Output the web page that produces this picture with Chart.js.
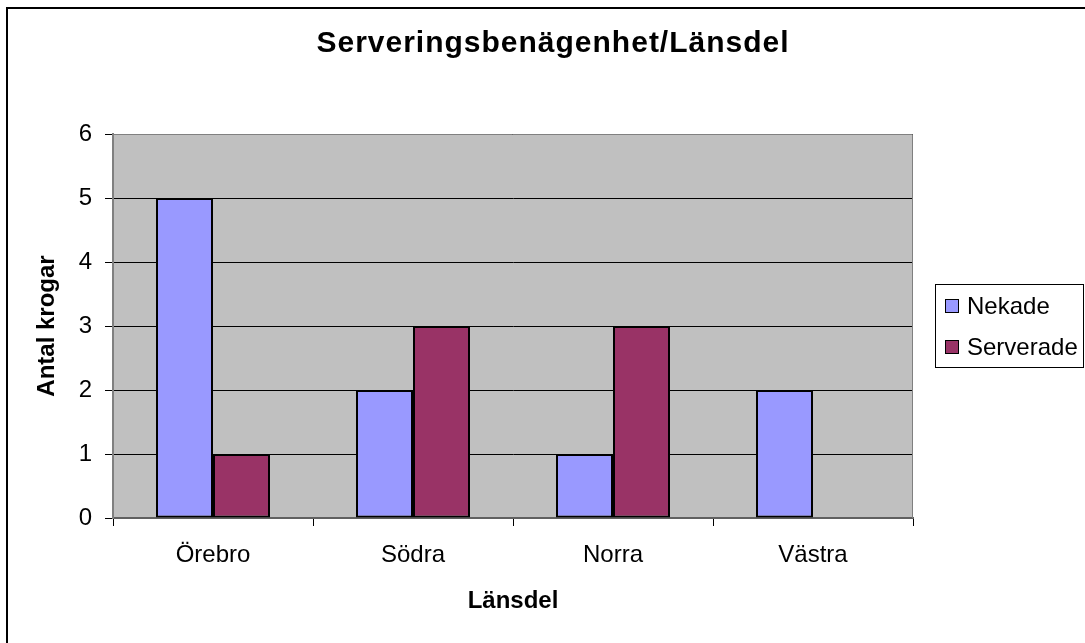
<!DOCTYPE html>
<html>
<head>
<meta charset="utf-8">
<script src="https://cdn.jsdelivr.net/npm/chart.js@4/dist/chart.umd.min.js"></script>
<style>
  body { margin: 0; background: #fff; }
  #wrap { width: 1085px; height: 643px; }
</style>
</head>
<body>
<div id="wrap"><canvas id="myChart" width="1085" height="643"></canvas></div>
<script>
const categories = ['Örebro', 'Södra', 'Norra', 'Västra'];
const nekade = [5, 2, 1, 2];
const serverade = [1, 3, 3, 0];
const yMin = 0;
const yMax = 6;
const yStep = 1;

const chartTitle = 'Serveringsbenägenhet/Länsdel';

Chart.defaults.font.family = "'Liberation Sans', Arial, sans-serif";
Chart.defaults.color = '#000';

// white page, outer frame, gray plot area
const background = {
    id: 'background',
    beforeDraw(chart) {
        const c = chart.ctx;
        const a = chart.chartArea;
        c.save();
        c.fillStyle = '#fff';
        c.fillRect(0, 0, chart.width, chart.height);
        c.strokeStyle = '#000';
        c.lineWidth = 2;
        c.strokeRect(7, 8, chart.width + 20, chart.height + 20);
        c.fillStyle = '#c0c0c0';
        c.fillRect(a.left, a.top, a.right - a.left, a.bottom - a.top);
        c.restore();
    },
    afterDraw(chart) {
        const c = chart.ctx;
        const a = chart.chartArea;
        c.save();
        c.strokeStyle = '#808080';
        c.lineWidth = 1;
        c.beginPath();
        c.moveTo(a.left, a.top + 0.5);
        c.lineTo(a.right - 0.5, a.top + 0.5);
        c.lineTo(a.right - 0.5, a.bottom);
        c.stroke();
        c.restore();
    }
};

// title and boxed legend the Excel way
const decor = {
    id: 'decor',
    afterDraw(chart) {
        const c = chart.ctx;
        c.save();
        c.fillStyle = '#000';
        c.textAlign = 'center';
        c.textBaseline = 'alphabetic';
        c.font = "bold 30px 'Liberation Sans'";
        c.letterSpacing = '1px';
        c.fillText(chartTitle, 553, 52);
        c.letterSpacing = '0px';

        c.strokeStyle = '#000';
        c.lineWidth = 1;
        c.strokeRect(935.5, 284.5, 148, 83);
        c.font = "24px 'Liberation Sans'";
        c.textAlign = 'left';
        chart.data.datasets.forEach((ds, i) => {
            const y = 299 + i * 41;
            c.fillStyle = ds.backgroundColor;
            c.fillRect(945, y, 14, 14);
            c.strokeRect(945.5, y + 0.5, 13, 13);
            c.fillStyle = '#000';
            c.fillText(ds.label, 967, y + 15);
        });
        c.restore();
    }
};

const ctx = document.getElementById('myChart');

new Chart(ctx, {
    type: 'bar',
    data: {
        labels: categories,
        datasets: [{
            label: 'Nekade',
            data: nekade,
            backgroundColor: '#9999ff',
            borderColor: '#000',
            borderWidth: 2,
            borderSkipped: false
        }, {
            label: 'Serverade',
            data: serverade,
            backgroundColor: '#993366',
            borderColor: '#000',
            borderWidth: 2,
            borderSkipped: false
        }]
    },
    options: {
        responsive: false,
        animation: false,
        categoryPercentage: 0.57,
        barPercentage: 1,
        layout: {
            padding: { top: 134, right: 172, bottom: 0, left: 0 }
        },
        plugins: {
            legend: { display: false },
            tooltip: { enabled: false }
        },
        scales: {
            x: {
                grid: {
                    drawOnChartArea: false,
                    tickLength: 8,
                    color: '#000'
                },
                border: { color: '#606060', width: 2 },
                ticks: {
                    font: { size: 24 },
                    padding: 15
                },
                title: {
                    display: true,
                    text: 'Länsdel',
                    font: { size: 24, weight: 'bold' },
                    padding: { top: 0, bottom: 27 }
                },
                afterFit(scale) { scale.height = 125; }
            },
            y: {
                min: yMin,
                max: yMax,
                grid: {
                    color: '#000',
                    tickLength: 8
                },
                border: { color: '#808080', width: 2 },
                ticks: {
                    stepSize: yStep,
                    font: { size: 24 },
                    padding: 13
                },
                title: {
                    display: true,
                    text: 'Antal krogar',
                    font: { size: 24, weight: 'bold' },
                    padding: { top: 33, bottom: 0 }
                },
                afterFit(scale) { scale.width = 113; }
            }
        }
    },
    plugins: [background, decor]
});
</script>
</body>
</html>
